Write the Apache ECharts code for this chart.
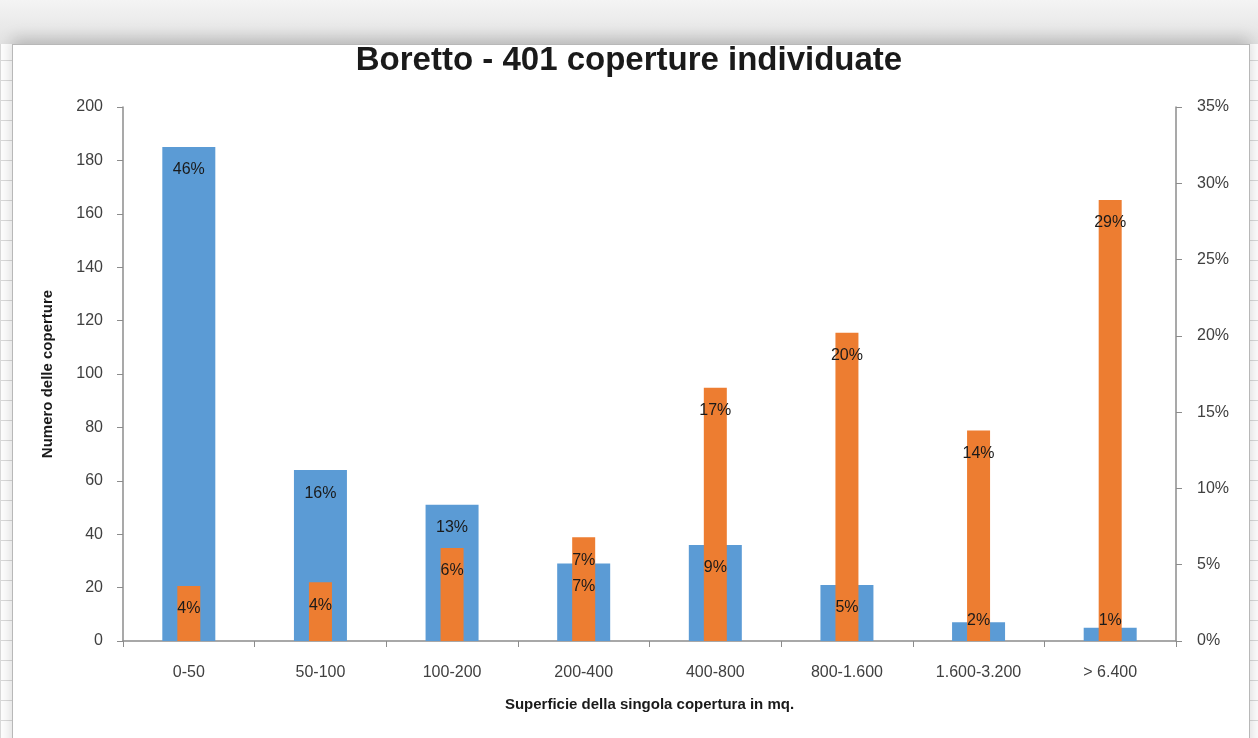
<!DOCTYPE html>
<html>
<head>
<meta charset="utf-8">
<script src="https://cdn.jsdelivr.net/npm/echarts@6/dist/echarts.min.js"></script>
<style>
  html, body { margin:0; padding:0; width:1258px; height:738px; overflow:hidden; }
  body {
    background-color:#ffffff;
    background-image:
      linear-gradient(to right, #dadada 1px, transparent 1px),
      linear-gradient(to bottom, #dadada 1px, transparent 1px);
    background-size:131px 100%, 100% 20px;
  }
  #frame {
    position:absolute; left:12px; top:44px; width:1236px; height:720px;
    background:#ffffff; border:1px solid #b8b8b8;
    box-shadow:0 -6px 14px rgba(0,0,0,0.18);
  }
  #topshade {
    position:absolute; left:0; top:0; width:1258px; height:44px;
    background:linear-gradient(to bottom, #f4f4f4, #e2e2e2);
  }
  #chart { position:absolute; left:0; top:0; width:1258px; height:738px; }
</style>
</head>
<body>
<div id="topshade"></div>
<div id="frame"></div>
<div id="chart"></div>
<script>
// ---- data ----
const categories = ['0-50', '50-100', '100-200', '200-400', '400-800', '800-1.600', '1.600-3.200', '> 6.400'];
const countValues = [185, 64, 51, 29, 36, 21, 7, 5];            // Numero delle coperture (left axis)
const totalCount = 401;                                          // from title
const areaShareValues = [3.6, 3.85, 6.1, 6.8, 16.6, 20.2, 13.8, 28.9]; // % superficie (right axis)
const leftTicks = { min: 0, max: 200, interval: 20 };
const rightTicks = { min: 0, max: 35, interval: 5 };

const FONT = '"Liberation Sans", "DejaVu Sans", sans-serif';
const chart = echarts.init(document.getElementById('chart'), null, { renderer: 'canvas' });

const labelStyle = {
  show: true,
  fontFamily: FONT,
  fontSize: 16,
  color: '#1a1a1a'
};

const countLabelData = countValues.map(v => ({
  value: v,
  label: v < 12
    ? { position: 'insideBottom', distance: 12 }
    : { position: 'insideTop', distance: 15 }
}));

const option = {
  backgroundColor: 'transparent',
  animation: false,
  title: {
    text: 'Boretto - 401 coperture individuate',
    left: 'center',
    top: 39,
    textStyle: { fontFamily: FONT, fontSize: 33, fontWeight: 'bold', color: '#1a1a1a' }
  },
  grid: { left: 123, right: 82, top: 107, bottom: 97, containLabel: false },
  xAxis: [
    {
      type: 'category',
      data: categories,
      boundaryGap: true,
      axisLine: { lineStyle: { color: '#8c8c8c', width: 1.5 } },
      axisTick: { show: true, length: 6, alignWithLabel: false, lineStyle: { color: '#8c8c8c' } },
      axisLabel: { fontFamily: FONT, fontSize: 16, color: '#404040', margin: 24 },
      name: 'Superficie della singola copertura in mq.',
      nameLocation: 'middle',
      nameGap: 56,
      nameTextStyle: { fontFamily: FONT, fontSize: 15, fontWeight: 'bold', color: '#1a1a1a' }
    },
    {
      type: 'category',
      data: categories,
      show: false,
      boundaryGap: true
    }
  ],
  yAxis: [
    {
      type: 'value',
      position: 'left',
      min: leftTicks.min, max: leftTicks.max, interval: leftTicks.interval,
      axisLine: { show: true, lineStyle: { color: '#8c8c8c', width: 1.5 } },
      axisTick: { show: true, length: 6, lineStyle: { color: '#8c8c8c' } },
      splitLine: { show: false },
      axisLabel: { fontFamily: FONT, fontSize: 16, color: '#404040', margin: 20 },
      name: 'Numero delle coperture',
      nameLocation: 'middle',
      nameGap: 68,
      nameRotate: 90,
      nameTextStyle: { fontFamily: FONT, fontSize: 15, fontWeight: 'bold', color: '#1a1a1a' }
    },
    {
      type: 'value',
      position: 'right',
      min: rightTicks.min, max: rightTicks.max, interval: rightTicks.interval,
      axisLine: { show: true, lineStyle: { color: '#8c8c8c', width: 1.5 } },
      axisTick: { show: true, length: 6, lineStyle: { color: '#8c8c8c' } },
      splitLine: { show: false },
      axisLabel: { fontFamily: FONT, fontSize: 16, color: '#404040', margin: 21, formatter: '{value}%' }
    }
  ],
  series: [
    {
      name: 'Numero',
      type: 'bar',
      xAxisIndex: 0,
      yAxisIndex: 0,
      barWidth: 53,
      data: countValues,
      itemStyle: { color: '#5B9BD5' },
      label: { show: false },
      z: 2
    },
    {
      name: 'Superficie',
      type: 'bar',
      xAxisIndex: 1,
      yAxisIndex: 1,
      barWidth: 23,
      data: areaShareValues,
      itemStyle: { color: '#ED7D31' },
      label: Object.assign({}, labelStyle, {
        position: 'insideTop',
        distance: 15,
        formatter: p => Math.round(p.value) + '%'
      }),
      z: 3
    },
    {
      // transparent copy of the count bars, only to draw their labels above the orange bars
      name: 'NumeroLabel',
      type: 'bar',
      xAxisIndex: 0,
      yAxisIndex: 0,
      barWidth: 53,
      barGap: '-100%',
      data: countLabelData,
      itemStyle: { color: 'rgba(0,0,0,0)' },
      label: Object.assign({}, labelStyle, {
        formatter: p => Math.round(p.value / totalCount * 100) + '%'
      }),
      silent: true,
      z: 4
    }
  ]
};
chart.setOption(option);
</script>
</body>
</html>
